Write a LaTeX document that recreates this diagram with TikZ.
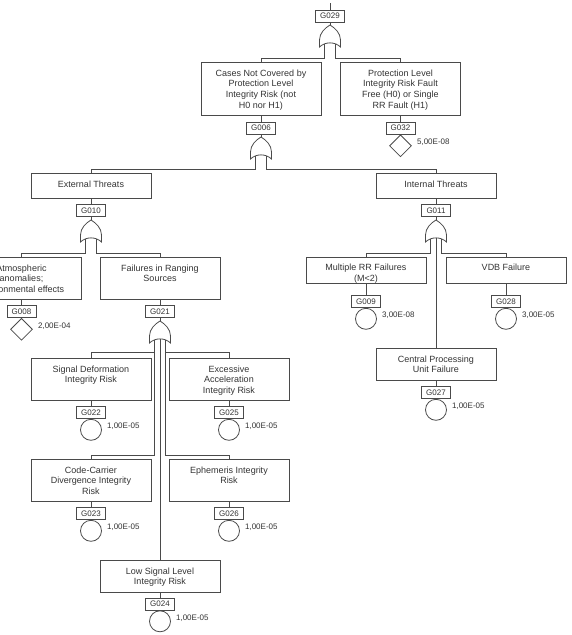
\documentclass[tikz,border=0pt]{standalone}
\usepackage{fontspec}
\setmainfont{Liberation Sans}
\usetikzlibrary{shapes.geometric}
\definecolor{lncol}{HTML}{4A4A4A}
\definecolor{txcol}{HTML}{333333}
\begin{document}
\begin{tikzpicture}[x=1pt,y=-1pt,
  wire/.style={draw=lncol, line width=0.8pt},
  evbox/.style={draw=lncol, line width=0.8pt, rectangle, minimum width=120pt, inner sep=0pt, anchor=north},
  evtext/.style={anchor=north, align=center, inner sep=0pt, text=txcol, font=\fontsize{9}{10.7}\selectfont},
  gid/.style={draw=lncol, line width=0.8pt, rectangle, minimum width=29pt, minimum height=12pt, inner sep=0pt, text=txcol, font=\fontsize{8}{9}\selectfont},
  basic/.style={draw=lncol, line width=0.8pt, circle, minimum size=21pt, inner sep=0pt, anchor=north},
  undev/.style={draw=lncol, line width=0.8pt, diamond, minimum width=22pt, minimum height=22pt, inner sep=0pt, anchor=north},
  prob/.style={anchor=west, inner sep=0pt, text=txcol, font=\fontsize{8}{9}\selectfont},
  orgate/.pic={
    \path[draw=lncol, line width=0.8pt, fill=white]
      (-10.5,22) -- (-10.5,15) .. controls (-10.5,8) and (-5,3) .. (0,0)
      .. controls (5,3) and (10.5,8) .. (10.5,15) -- (10.5,22)
      .. controls (5,16.5) and (-5,16.5) .. cycle;
  }
]
\useasboundingbox (0,0) rectangle (571,635);
\begin{scope}
\clip (0,0) rectangle (571,635);

% ---------- event boxes ----------
\node[evbox, minimum height=53pt] (cases) at (261,62) {};
\node[evtext] (casesT) at (261,69.5) {Cases Not Covered by\\Protection Level\\Integrity Risk (not\\H0 nor H1)};
\node[evbox, minimum height=53pt] (prot) at (400.5,62) {};
\node[evtext] (protT) at (400.5,69.5) {Protection Level\\Integrity Risk Fault\\Free (H0) or Single\\RR Fault (H1)};
\node[evbox, minimum height=25pt] (ext) at (91,173) {};
\node[evtext] (extT) at (91,180.5) {External Threats};
\node[evbox, minimum height=25pt] (int) at (436,173) {};
\node[evtext] (intT) at (436,180.5) {Internal Threats};
\node[evbox, minimum height=42pt] (atm) at (21.5,257) {};
\node[evtext] (atmT) at (21.5,264.5) {Atmospheric\\anomalies;\\environmental effects};
\node[evbox, minimum height=42pt] (frs) at (160,257) {};
\node[evtext] (frsT) at (160,264.5) {Failures in Ranging\\Sources};
\node[evbox, minimum height=26pt] (mrr) at (366,257) {};
\node[evtext] (mrrT) at (366,264) {Multiple RR Failures\\(M<2)};
\node[evbox, minimum height=26pt] (vdb) at (506,257) {};
\node[evtext] (vdbT) at (506,264) {VDB Failure};
\node[evbox, minimum height=42pt] (sig) at (91,358) {};
\node[evtext] (sigT) at (91,365.5) {Signal Deformation\\Integrity Risk};
\node[evbox, minimum height=42pt] (exc) at (229,358) {};
\node[evtext] (excT) at (229,365.5) {Excessive\\Acceleration\\Integrity Risk};
\node[evbox, minimum height=32pt] (cpu) at (436,348) {};
\node[evtext] (cpuT) at (436,355.5) {Central Processing\\Unit Failure};
\node[evbox, minimum height=42pt] (ccd) at (91,459) {};
\node[evtext] (ccdT) at (91,466.5) {Code-Carrier\\Divergence Integrity\\Risk};
\node[evbox, minimum height=42pt] (eph) at (229,459) {};
\node[evtext] (ephT) at (229,466.5) {Ephemeris Integrity\\Risk};
\node[evbox, minimum height=32pt] (low) at (160,560) {};
\node[evtext] (lowT) at (160,567.5) {Low Signal Level\\Integrity Risk};

% ---------- gate identifiers ----------
\node[gid] (g029) at (330,16) {G029};
\node[gid] (g006) at (261,128) {G006};
\node[gid] (g032) at (400.5,128) {G032};
\node[gid] (g010) at (91,210.5) {G010};
\node[gid] (g011) at (436,210.5) {G011};
\node[gid] (g008) at (21.5,311.5) {G008};
\node[gid] (g021) at (160,311.5) {G021};
\node[gid] (g009) at (366,301.5) {G009};
\node[gid] (g028) at (506,301.5) {G028};
\node[gid] (g022) at (91,412.5) {G022};
\node[gid] (g025) at (229,412.5) {G025};
\node[gid] (g027) at (436,392.5) {G027};
\node[gid] (g023) at (91,513.5) {G023};
\node[gid] (g026) at (229,513.5) {G026};
\node[gid] (g024) at (160,604) {G024};

% ---------- basic / undeveloped events ----------
\node[undev] (d032) at (g032.south) {};
\node[undev] (d008) at (g008.south) {};
\node[basic] (c009) at (g009.south) {};
\node[basic] (c028) at (g028.south) {};
\node[basic] (c022) at (g022.south) {};
\node[basic] (c025) at (g025.south) {};
\node[basic] (c027) at (g027.south) {};
\node[basic] (c023) at (g023.south) {};
\node[basic] (c026) at (g026.south) {};
\node[basic] (c024) at (g024.south) {};

% ---------- probabilities ----------
\node[prob] (p032) at ([xshift=5pt,yshift=3.5pt]d032.east) {5,00E-08};
\node[prob] (p008) at ([xshift=5pt,yshift=3.5pt]d008.east) {2,00E-04};
\node[prob] (p009) at ([xshift=5pt,yshift=3.5pt]c009.east) {3,00E-08};
\node[prob] (p028) at ([xshift=5pt,yshift=3.5pt]c028.east) {3,00E-05};
\node[prob] (p022) at ([xshift=5pt,yshift=3.5pt]c022.east) {1,00E-05};
\node[prob] (p025) at ([xshift=5pt,yshift=3.5pt]c025.east) {1,00E-05};
\node[prob] (p027) at ([xshift=5pt,yshift=3.5pt]c027.east) {1,00E-05};
\node[prob] (p023) at ([xshift=5pt,yshift=3.5pt]c023.east) {1,00E-05};
\node[prob] (p026) at ([xshift=5pt,yshift=3.5pt]c026.east) {1,00E-05};
\node[prob] (p024) at ([xshift=5pt,yshift=3.5pt]c024.east) {1,00E-05};

% ---------- gate coordinates ----------
\coordinate (top) at (330,3);
\coordinate (t029) at (330,25);  \coordinate (a029L) at (324.5,41); \coordinate (a029R) at (335.5,41); \coordinate (b029) at (0,58);
\coordinate (t006) at (261,137); \coordinate (a006L) at (255.5,153); \coordinate (a006R) at (266.5,153); \coordinate (b006) at (0,169);
\coordinate (t010) at (91,220);  \coordinate (a010L) at (85.5,236); \coordinate (a010R) at (96.5,236); \coordinate (b010) at (0,253);
\coordinate (t011) at (436,220); \coordinate (a011L) at (430.5,236); \coordinate (a011R) at (441.5,236); \coordinate (a011C) at (436,236); \coordinate (b011) at (0,253);
\coordinate (t021) at (160,321); \coordinate (a021L) at (154.5,337); \coordinate (a021R) at (165.5,337); \coordinate (a021C) at (160,337);
\coordinate (b021a) at (0,352); \coordinate (b021b) at (0,455);

% ---------- connectors ----------
\draw[wire] (top) -- (g029.north);
\draw[wire] (g029.south) -- (t029);
\draw[wire] (a029L) |- (b029 -| cases.north) -- (cases.north);
\draw[wire] (a029R) |- (b029 -| prot.north) -- (prot.north);
\draw[wire] (cases.south) -- (g006.north);
\draw[wire] (prot.south) -- (g032.north);
\draw[wire] (g006.south) -- (t006);
\draw[wire] (a006L) |- (b006 -| ext.north) -- (ext.north);
\draw[wire] (a006R) |- (b006 -| int.north) -- (int.north);
\draw[wire] (ext.south) -- (g010.north);
\draw[wire] (int.south) -- (g011.north);
\draw[wire] (g010.south) -- (t010);
\draw[wire] (g011.south) -- (t011);
\draw[wire] (a010L) |- (b010 -| atm.north) -- (atm.north);
\draw[wire] (a010R) |- (b010 -| frs.north) -- (frs.north);
\draw[wire] (a011L) |- (b011 -| mrr.north) -- (mrr.north);
\draw[wire] (a011R) |- (b011 -| vdb.north) -- (vdb.north);
\draw[wire] (a011C) -- (cpu.north);
\draw[wire] (atm.south) -- (g008.north);
\draw[wire] (frs.south) -- (g021.north);
\draw[wire] (mrr.south) -- (g009.north);
\draw[wire] (vdb.south) -- (g028.north);
\draw[wire] (cpu.south) -- (g027.north);
\draw[wire] (g021.south) -- (t021);
\draw[wire] (a021L) |- (b021b -| ccd.north) -- (ccd.north);
\draw[wire] (a021R) |- (b021b -| eph.north) -- (eph.north);
\draw[wire] (a021L |- b021a) -- (b021a -| sig.north) -- (sig.north);
\draw[wire] (a021R |- b021a) -- (b021a -| exc.north) -- (exc.north);
\draw[wire] (a021C) -- (low.north);
\draw[wire] (sig.south) -- (g022.north);
\draw[wire] (exc.south) -- (g025.north);
\draw[wire] (ccd.south) -- (g023.north);
\draw[wire] (eph.south) -- (g026.north);
\draw[wire] (low.south) -- (g024.north);

% ---------- OR gates ----------
\pic (or029) at (t029) {orgate};
\pic (or006) at (t006) {orgate};
\pic (or010) at (t010) {orgate};
\pic (or011) at (t011) {orgate};
\pic (or021) at (t021) {orgate};
\end{scope}
\end{tikzpicture}
\end{document}
